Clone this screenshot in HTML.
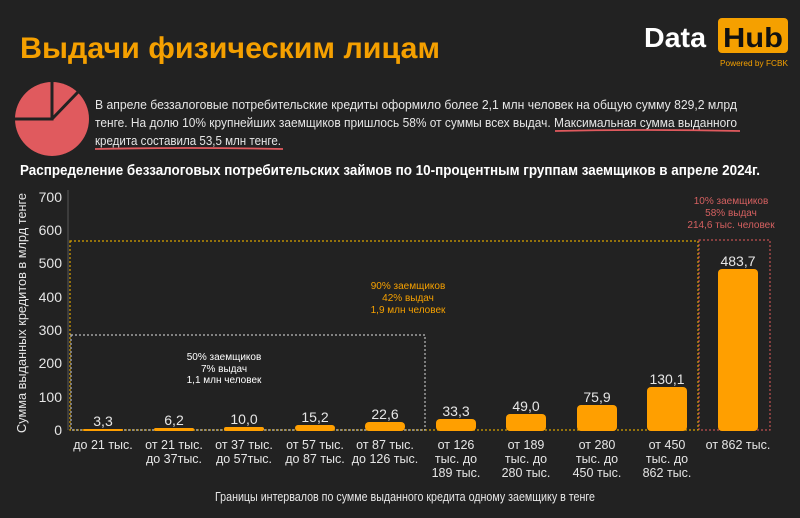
<!DOCTYPE html>
<html><head><meta charset="utf-8"><style>
html,body{margin:0;padding:0;background:#222222;}
svg{display:block;}
text{font-family:"Liberation Sans Narrow","Liberation Sans",sans-serif;}
</style></head><body>
<svg width="800" height="518" viewBox="0 0 800 518" xmlns="http://www.w3.org/2000/svg">
<rect width="800" height="518" fill="#222222"/>
<!-- title -->
<text x="20" y="58" font-size="30" font-weight="bold" fill="#f5a000" textLength="420" lengthAdjust="spacingAndGlyphs">Выдачи физическим лицам</text>
<!-- logo -->
<text x="644" y="47" font-size="28" font-weight="bold" fill="#ffffff" textLength="62" lengthAdjust="spacingAndGlyphs">Data</text>
<rect x="718" y="18" width="70" height="35" rx="4" fill="#f5a000"/>
<text x="723" y="47" font-size="28" font-weight="bold" fill="#111" textLength="60" lengthAdjust="spacingAndGlyphs">Hub</text>
<text x="720" y="66" font-size="8" fill="#f5a000" textLength="68" lengthAdjust="spacingAndGlyphs">Powered by FCBK</text>
<!-- pie -->
<circle cx="52" cy="119" r="37" fill="#e05a5e"/>
<path d="M52 80 L52 119 L13 119 M52 119 L78 92" stroke="#222" stroke-width="3" fill="none"/>
<!-- paragraph -->
<g font-size="13" fill="#e6e6e6">
<text x="95" y="109" textLength="642" lengthAdjust="spacingAndGlyphs">В апреле беззалоговые потребительские кредиты оформило более 2,1 млн человек на общую сумму 829,2 млрд</text>
<text x="95" y="127" textLength="642" lengthAdjust="spacingAndGlyphs">тенге. На долю 10% крупнейших заемщиков пришлось 58% от суммы всех выдач. Максимальная сумма выданного</text>
<text x="95" y="145" textLength="186" lengthAdjust="spacingAndGlyphs">кредита составила 53,5 млн тенге.</text>
</g>
<path d="M555 131 Q650 129 740 131" stroke="#e05a5e" stroke-width="1.8" fill="none"/>
<path d="M95 149 Q190 147 283 149" stroke="#e05a5e" stroke-width="1.8" fill="none"/>
<!-- subtitle -->
<text x="20" y="175" font-size="15" font-weight="bold" fill="#ffffff" textLength="740" lengthAdjust="spacingAndGlyphs">Распределение беззалоговых потребительских займов по 10-процентным группам заемщиков в апреле 2024г.</text>
<!-- y axis -->
<line x1="68" y1="190" x2="68" y2="430" stroke="#555" stroke-width="1"/>
<g font-size="14" fill="#e6e6e6" text-anchor="end">
<text x="62" y="435">0</text><text x="62" y="402">100</text><text x="62" y="368">200</text><text x="62" y="335">300</text><text x="62" y="302">400</text><text x="62" y="268">500</text><text x="62" y="235">600</text><text x="62" y="202">700</text>
</g>
<text transform="translate(26,313) rotate(-90)" font-size="13" fill="#e6e6e6" text-anchor="middle" textLength="240" lengthAdjust="spacingAndGlyphs">Сумма выданных кредитов в млрд тенге</text>
<!-- boxes -->
<rect x="70" y="241" width="628" height="189" fill="none" stroke="#d9a200" stroke-width="1.2" stroke-dasharray="2,2"/>
<rect x="699" y="240" width="71" height="190" fill="none" stroke="#c05050" stroke-width="1.2" stroke-dasharray="2,2"/>
<rect x="71" y="335" width="354" height="95" fill="none" stroke="#bbbbbb" stroke-width="1.2" stroke-dasharray="2,2"/>
<!-- bars -->
<g fill="#ff9f00">
<rect x="83" y="429" width="40" height="2" rx="1"/>
<rect x="154" y="428" width="40" height="3" rx="1.5"/>
<rect x="224" y="427" width="40" height="4" rx="2"/>
<rect x="295" y="425" width="40" height="6" rx="3"/>
<rect x="365" y="422" width="40" height="9" rx="4"/>
<rect x="436" y="419" width="40" height="12" rx="4"/>
<rect x="506" y="414" width="40" height="17" rx="4"/>
<rect x="577" y="405" width="40" height="26" rx="4"/>
<rect x="647" y="387" width="40" height="44" rx="4"/>
<rect x="718" y="269" width="40" height="162" rx="4"/>
</g>
<g font-size="14" fill="#e6e6e6" text-anchor="middle">
<text x="103" y="426">3,3</text><text x="174" y="425">6,2</text><text x="244" y="424">10,0</text><text x="315" y="422">15,2</text><text x="385" y="419">22,6</text><text x="456" y="416">33,3</text><text x="526" y="411">49,0</text><text x="597" y="402">75,9</text><text x="667" y="384">130,1</text><text x="738" y="266">483,7</text>
</g>
<!-- x labels -->
<g font-size="12.5" fill="#e6e6e6" text-anchor="middle">
<text x="103" y="449">до 21 тыс.</text>
<text x="174" y="449">от 21 тыс.</text><text x="174" y="463">до 37тыс.</text>
<text x="244" y="449">от 37 тыс.</text><text x="244" y="463">до 57тыс.</text>
<text x="315" y="449">от 57 тыс.</text><text x="315" y="463">до 87 тыс.</text>
<text x="385" y="449">от 87 тыс.</text><text x="385" y="463">до 126 тыс.</text>
<text x="456" y="449">от 126</text><text x="456" y="463">тыс. до</text><text x="456" y="477">189  тыс.</text>
<text x="526" y="449">от 189</text><text x="526" y="463">тыс. до</text><text x="526" y="477">280 тыс.</text>
<text x="597" y="449">от 280</text><text x="597" y="463">тыс. до</text><text x="597" y="477">450 тыс.</text>
<text x="667" y="449">от 450</text><text x="667" y="463">тыс. до</text><text x="667" y="477">862 тыс.</text>
<text x="738" y="449">от 862 тыс.</text>
</g>
<text x="405" y="501" font-size="12.5" fill="#e6e6e6" text-anchor="middle" textLength="380" lengthAdjust="spacingAndGlyphs">Границы интервалов по сумме выданного кредита одному заемщику  в тенге</text>
<!-- annotations -->
<g font-size="10" fill="#ffffff" text-anchor="middle">
<text x="224" y="360">50% заемщиков</text><text x="224" y="372">7% выдач</text><text x="224" y="383">1,1 млн человек</text>
</g>
<g font-size="10" fill="#f5a000" text-anchor="middle">
<text x="408" y="289">90% заемщиков</text><text x="408" y="301">42% выдач</text><text x="408" y="313">1,9 млн человек</text>
</g>
<g font-size="10" fill="#d46060" text-anchor="middle">
<text x="731" y="204">10% заемщиков</text><text x="731" y="216">58% выдач</text><text x="731" y="228">214,6 тыс. человек</text>
</g>
</svg>
</body></html>
